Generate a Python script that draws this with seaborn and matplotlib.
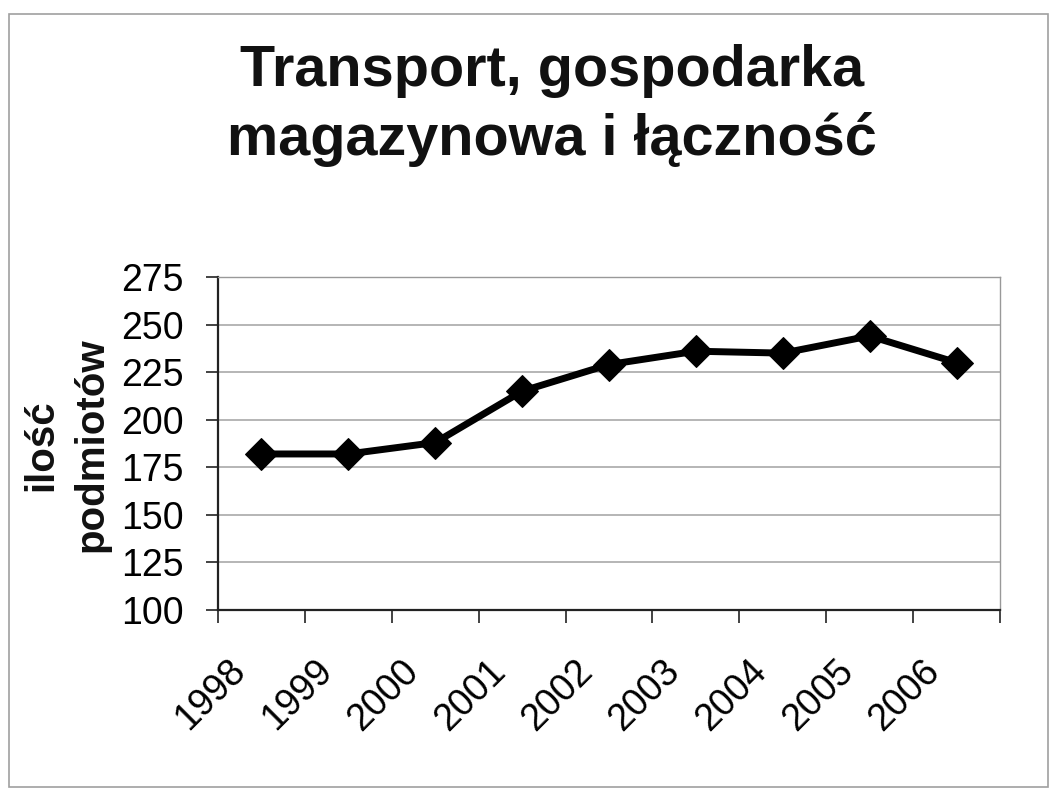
import matplotlib
matplotlib.use("Agg")
import numpy as np
import pandas as pd
import matplotlib.pyplot as plt
import matplotlib.transforms as mtrans
from matplotlib.patches import Rectangle
import seaborn as sns

# dane
years = ["1998", "1999", "2000", "2001", "2002", "2003", "2004", "2005", "2006"]
counts = [182, 182, 188, 215, 229, 236, 235, 244, 230]
y_ticks = [100, 125, 150, 175, 200, 225, 250, 275]

title = "Transport, gospodarka\nmagazynowa i łączność"
ylabel = "ilość\npodmiotów"

sns.set_theme(style="white")
plt.rcParams["font.family"] = ["Liberation Sans", "DejaVu Sans"]

fig = plt.figure(figsize=(10.55, 7.94), dpi=100)
ax = fig.add_axes([218 / 1055, 1 - 610 / 794, 782 / 1055, 333 / 794])

df = pd.DataFrame({"rok": years, "ilosc": counts})
sns.lineplot(data=df, x="rok", y="ilosc", ax=ax, sort=False,
             color="black", lw=5, marker="D", markersize=16,
             markeredgecolor="black", markerfacecolor="black")

ax.set_xlim(-0.5, len(years) - 0.5)
ax.set_ylim(y_ticks[0], y_ticks[-1])
ax.set_yticks(y_ticks)
ax.grid(axis="y", color="#b5b5b5", lw=1.4)
ax.grid(axis="x", visible=False)
ax.set_xlabel("")
ax.set_ylabel("")

# ticks between categories, labels at category centres
ax.set_xticks(range(len(years)))
ax.set_xticklabels(years, rotation=45, ha="right", va="center",
                   rotation_mode="anchor", fontsize=27)
ax.set_xticks(np.arange(-0.5, len(years)), minor=True)
ax.tick_params(axis="x", which="major", length=0, pad=40, labelcolor="black")
ax.tick_params(axis="x", which="minor", length=9, width=1.2,
               color="#222222", direction="out", bottom=True)
ax.tick_params(axis="y", length=9, width=1.2, color="#222222",
               direction="out", left=True, pad=16, labelsize=27,
               labelcolor="black")
shift = mtrans.ScaledTranslation(-22 / 100, 0, fig.dpi_scale_trans)
for lbl in ax.get_xticklabels():
    lbl.set_transform(lbl.get_transform() + shift)

for side in ["left", "bottom"]:
    ax.spines[side].set_color("#222222")
    ax.spines[side].set_linewidth(1.6)
for side in ["top", "right"]:
    ax.spines[side].set_color("#999999")
    ax.spines[side].set_linewidth(1.0)

fig.text(552 / 1055, 1 - 44 / 794, title, ha="center", va="top",
         fontsize=41.5, fontweight="bold", linespacing=1.33, color="#111111")
fig.text(66 / 1055, 1 - 445 / 794, ylabel, rotation=90, ha="center",
         va="center", fontsize=29, fontweight="bold", linespacing=1.4,
         multialignment="center", color="#111111")

fig.patches.append(Rectangle((9 / 1055, 1 - 787 / 794), 1039 / 1055, 773 / 794,
                             transform=fig.transFigure, fill=False,
                             edgecolor="#a0a0a0", lw=1.2))

fig.savefig("out.png", dpi=100, facecolor="white")
